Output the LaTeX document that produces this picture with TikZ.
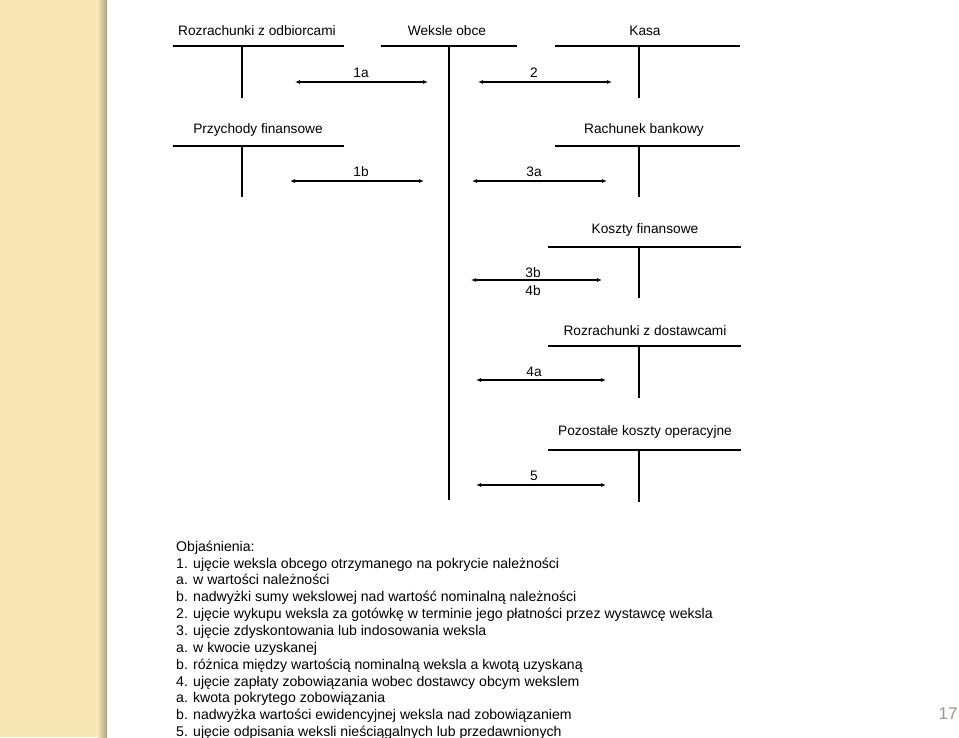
\documentclass[tikz,border=0pt]{standalone}
\usepackage{fontspec}
\setmainfont{Liberation Sans}
\usetikzlibrary{arrows.meta}
\definecolor{strip}{RGB}{247,229,180}
\definecolor{stripedge}{RGB}{170,163,135}
\definecolor{pagenum}{RGB}{150,150,140}
\tikzset{
  tline/.style={line width=1.4pt, black},
  flow/.style={line width=1.1pt, {Latex[length=5pt,width=4pt]}-{Latex[length=5pt,width=4pt]}},
  acct/.style={font=\fontsize{13.7}{16}\selectfont, inner sep=0pt},
  lbl/.style={font=\fontsize{13.7}{16}\selectfont, inner sep=0pt},
  expl/.style={font=\fontsize{14.1}{16}\selectfont, inner sep=0pt, anchor=base west},
}
\begin{document}
\begin{tikzpicture}[x=1pt,y=-1pt]
\useasboundingbox (0,0) rectangle (959,737);
\clip (0,0) rectangle (959,737);
\fill[white] (0,0) rectangle (959,737);
% decorative strip
\fill[strip] (0,0) rectangle (98,737);
\shade[left color=strip, right color=stripedge] (97.5,0) rectangle (107,737);

% account titles
\node[acct] (rodb) at (257,31) {Rozrachunki z odbiorcami};
\node[acct] (wek) at (447,31) {Weksle obce};
\node[acct] (kasa) at (645,31) {Kasa};
\node[acct] (przy) at (258,130) {Przychody finansowe};
\node[acct] (rach) at (644,130) {Rachunek bankowy};
\node[acct] (kfin) at (645,230) {Koszty finansowe};
\node[acct] (rdos) at (645,331) {Rozrachunki z dostawcami};
\node[acct] (pko) at (645,432) {Pozostałe koszty operacyjne};

% T accounts
\draw[tline] (173,46) -- (344,46) (242,46) -- (242,98);
\draw[tline] (381,46) -- (517,46) (449,46) -- (449,500);
\draw[tline] (555,46) -- (740,46) (639,46) -- (639,98);
\draw[tline] (173,146) -- (344,146) (242,146) -- (242,197);
\draw[tline] (555,146) -- (740,146) (639,146) -- (639,197);
\draw[tline] (548,247) -- (741,247) (639,247) -- (639,298);
\draw[tline] (548,346) -- (741,346) (639,346) -- (639,398);
\draw[tline] (548,450) -- (741,450) (639,450) -- (639,502);

% arrow end points
\coordinate (a1aL) at (295,82);  \coordinate (a1aR) at (428,82);
\coordinate (a2L) at (478,82);   \coordinate (a2R) at (612,82);
\coordinate (a1bL) at (290,181); \coordinate (a1bR) at (424,181);
\coordinate (a3aL) at (472,181); \coordinate (a3aR) at (607,181);
\coordinate (a3bL) at (471,280); \coordinate (a3bR) at (602,280);
\coordinate (a4aL) at (476,380); \coordinate (a4aR) at (606,380);
\coordinate (a5L) at (476,485);  \coordinate (a5R) at (606,485);
\draw[flow] (a1aL) -- (a1aR);
\draw[flow] (a2L) -- (a2R);
\draw[flow] (a1bL) -- (a1bR);
\draw[flow] (a3aL) -- (a3aR);
\draw[flow] (a3bL) -- (a3bR);
\draw[flow] (a4aL) -- (a4aR);
\draw[flow] (a5L) -- (a5R);

% arrow labels
\node[lbl] (l1a) at (361,73) {1a};
\node[lbl] (l2) at (534,73) {2};
\node[lbl] (l1b) at (361,172) {1b};
\node[lbl] (l3a) at (534,172) {3a};
\node[lbl] (l3b) at (533,273) {3b};
\node[lbl] (l4b) at (533,291) {4b};
\node[lbl] (l4a) at (534,372) {4a};
\node[lbl] (l5) at (534,476) {5};

% explanations
\node[expl] (e0) at (176,551) {Objaśnienia:};
\node[expl] (e1) at (176,568) {1. ujęcie weksla obcego otrzymanego na pokrycie należności};
\node[expl] (e2) at (176,584.5) {a. w wartości należności};
\node[expl] (e3) at (176,601) {b. nadwyżki sumy wekslowej nad wartość nominalną należności};
\node[expl] (e4) at (176,618) {2. ujęcie wykupu weksla za gotówkę w terminie jego płatności przez wystawcę weksla};
\node[expl] (e5) at (176,635) {3. ujęcie zdyskontowania lub indosowania weksla};
\node[expl] (e6) at (176,652) {a. w kwocie uzyskanej};
\node[expl] (e7) at (176,669) {b. różnica między wartością nominalną weksla a kwotą uzyskaną};
\node[expl] (e8) at (176,686) {4. ujęcie zapłaty zobowiązania wobec dostawcy obcym wekslem};
\node[expl] (e9) at (176,702.5) {a. kwota pokrytego zobowiązania};
\node[expl] (e10) at (176,719) {b. nadwyżka wartości ewidencyjnej weksla nad zobowiązaniem};
\node[expl] (e11) at (176,736) {5. ujęcie odpisania weksli nieściągalnych lub przedawnionych};

% page number
\node[font=\fontsize{17}{20}\selectfont, text=pagenum, inner sep=0pt] (pg) at (948,714) {17};
\end{tikzpicture}
\end{document}
